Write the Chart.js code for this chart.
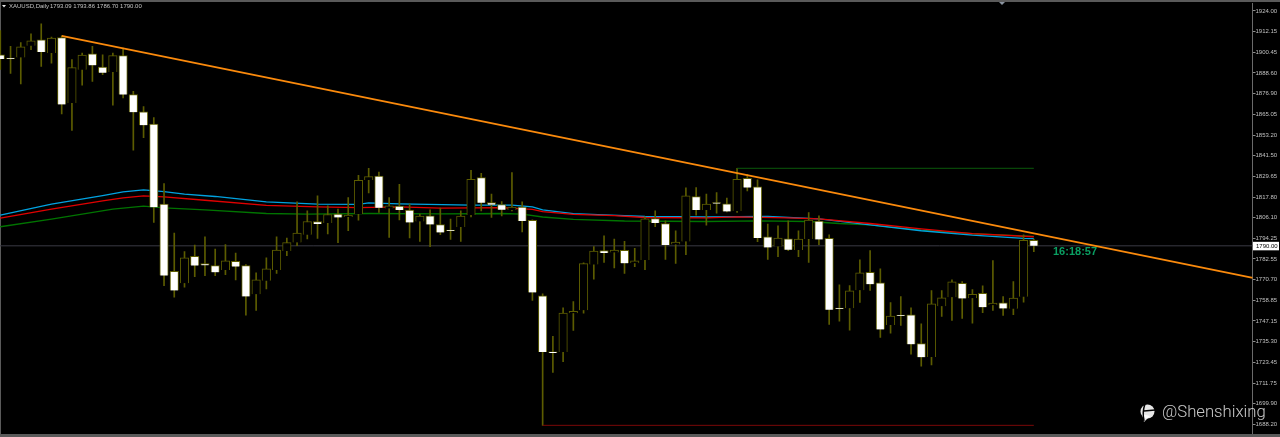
<!DOCTYPE html>
<html>
<head>
<meta charset="utf-8">
<title>XAUUSD,Daily</title>
<style>
html, body { margin: 0; padding: 0; background: #000; overflow: hidden; }
canvas { display: block; }
</style>
<script src="https://cdn.jsdelivr.net/npm/chart.js@4"></script>
</head>
<body>
<canvas id="mainChart" width="1280" height="437"></canvas>
<script>
// candles, oldest first, x is the candle number
const opens = [1898.88,1896.89,1897.46,1904.11,1907.52,1899.9,1908.82,1871.5,1890.47,1899.56,1891.95,1889.11,1898.43,1876.27,1866.38,1859.39,1813.76,1775.47,1768.65,1783.99,1779.84,1778.71,1776.26,1781.15,1778.71,1762.4,1770.01,1776.26,1787.06,1791.95,1796.32,1803.88,1802.97,1808.08,1806.38,1808.08,1827.57,1829.84,1811.26,1812.63,1810.36,1803.88,1807.12,1802.17,1798.99,1800.69,1807.51,1828.88,1814.68,1813.54,1810.36,1812.06,1804.56,1761.49,1729.27,1729.44,1751.6,1753.31,1779.28,1787.23,1786.26,1787.4,1780.01,1781.95,1805.58,1802.74,1790.81,1792.52,1818.08,1810.36,1814.68,1813.93,1809.79,1828.54,1823.59,1795.18,1789.68,1794.05,1787.63,1793.88,1804.11,1794.22,1754.27,1754.45,1764.67,1774.9,1768.88,1744.78,1750.3,1750.69,1734.22,1726.6,1755.58,1760.69,1768.65,1760.13,1762.97,1756.14,1757.51,1754.1,1760.92,1793.09];
const highs = [1912.8,1903.71,1905.98,1910.93,1916.61,1909,1909.79,1896.15,1899.9,1903.71,1898.99,1899.9,1902.75,1878.14,1869.45,1863.2,1825.47,1797.29,1786.66,1790.47,1795.18,1788.2,1790.64,1785.92,1779.28,1774.56,1783.08,1795.18,1794.45,1815.07,1809.96,1818.48,1812.8,1810.92,1817.51,1830.24,1834.22,1832.12,1817.51,1825.13,1813.76,1808.08,1810.53,1811.49,1805.24,1809.96,1833.08,1831.38,1819.45,1815.24,1831.72,1815.07,1804.84,1762.62,1738.4,1754.67,1758.25,1780.24,1789.5,1795.75,1793.88,1792.52,1788.54,1806.55,1809.96,1804.28,1798.59,1823.03,1823.2,1819.45,1820.36,1817.17,1834.22,1830.81,1827.57,1802.4,1801.44,1804.28,1798.59,1809,1807.12,1796.32,1767.74,1767.34,1781.95,1787.23,1776.83,1757.68,1761.09,1754.67,1745.58,1764.5,1764.5,1770.58,1769.62,1765.07,1767.17,1781.55,1761.09,1769.62,1796.32,1793.86];
const lows = [1890.64,1888.37,1882.29,1901.84,1892.35,1894.22,1865.24,1855.81,1881.55,1883.82,1887.63,1870.19,1874.33,1844.62,1851.61,1803.31,1767.34,1760.69,1766.38,1772.46,1773.03,1773.03,1773.59,1770.58,1750.47,1753.14,1765.47,1774.33,1784.39,1790.07,1793.88,1794.22,1796.72,1791.78,1798.59,1804.67,1820.19,1808.99,1794.79,1804.84,1794.45,1792.52,1789.5,1796.32,1793.65,1792.52,1806.5,1809.96,1806.15,1807.12,1809.96,1797.86,1758.82,1687.62,1717.74,1723.99,1741.77,1751.6,1770.92,1780.58,1777.4,1774.33,1778.14,1776.43,1800.87,1782.29,1780.01,1784.96,1807.51,1801.83,1808.65,1809.39,1808.99,1821.32,1792.35,1782.29,1783.82,1787.23,1783.82,1780.58,1790.64,1745.18,1747.06,1741.94,1757.68,1764.5,1737.8,1740.24,1744.6,1728.14,1721.32,1722.06,1749.73,1747.46,1748.59,1745.92,1751.83,1753.14,1750.3,1750.69,1757.86,1786.7];
const closes = [1896.61,1896.55,1903.54,1906.95,1900.47,1908.43,1870.6,1891.61,1898.77,1892.92,1888.77,1898.43,1876.27,1866.21,1858.82,1812.06,1773.02,1764.5,1783.08,1778.71,1778.88,1774.9,1781.38,1778.14,1761.09,1770.58,1776.83,1787.63,1791.78,1797.29,1803.88,1802.4,1807.86,1806.15,1807.51,1827.4,1829.45,1811.66,1812.8,1810.36,1803.31,1806.94,1802.17,1797.63,1798.42,1806.94,1827.97,1814.5,1813.54,1810.53,1812.06,1804.11,1763.37,1729.44,1728.93,1751.6,1752.57,1779.84,1787.06,1785.92,1787.63,1780.01,1781.38,1805.41,1802.97,1790.47,1792.17,1818.48,1810.36,1813.76,1814.1,1809.56,1827.97,1823.2,1794.44,1789.1,1794.44,1787.8,1793.88,1804.67,1793.65,1753.54,1753.93,1764.33,1774.56,1768.08,1742.34,1749.9,1749.96,1733.82,1726.43,1756.94,1760.35,1769.44,1759.96,1762.4,1755.01,1757.28,1754.27,1760.13,1793.08,1790];

// moving averages, read at a handful of candles each
const blueX = [0,5,10,12,14,16,18,21,26,31,35,36,39,46,50,52,53,56,59,63,69,75,80,85,90,95,100,101];
const blueMa = [1807.51,1813.82,1818.6,1820.75,1821.89,1820.92,1819.45,1818.14,1815.07,1813.82,1813.65,1814.5,1813.94,1813.2,1813.2,1812.23,1810.53,1808.37,1807.69,1806.72,1806.44,1806.72,1805.41,1802,1798.59,1796.09,1794.27,1794.05];
const redX = [0,5,10,12,14,16,20,26,31,35,39,43,49,52,53,56,60,63,69,72,77,80,85,90,95,101];
const redMa = [1805.81,1810.98,1815.64,1817.4,1818.48,1817.91,1815.98,1813.03,1812.23,1811.83,1812.23,1811.49,1811.83,1810.81,1809.56,1807.97,1807.23,1806.15,1805.98,1806.55,1805.98,1805.41,1802.74,1799.67,1797,1795.18];
const greenX = [0,5,11,14,16,20,26,30,36,43,49,51,53,56,61,69,74,79,82,85,90,95,101];
const greenMa = [1800.87,1805.24,1810.92,1812.63,1811.66,1810.53,1808.42,1808.08,1808.42,1808.25,1808.42,1808.08,1806.44,1805.13,1804.16,1803.88,1804.28,1803.88,1802.74,1802,1798.99,1796.89,1795.36];

// drawn objects on the chart
const trendX = [6,122.4];
const trendY = [1909.79,1771.72];
const rangeX = [72,101];
const rangeHigh = [1834.22,1834.22];
const rangeLowX = [53,101];
const rangeLow = [1687.62,1687.62];
const lastPrice = 1790;

const priceTicks = [1924,1912.15,1900.45,1888.6,1876.9,1865.05,1853.2,1841.5,1829.65,1817.8,1806.1,1794.25,1782.55,1770.7,1758.85,1747.15,1735.3,1723.45,1711.75,1699.9,1688.2];

const olive = '#5c5c00';
const toXY = (xs, ys) => xs.map((x, i) => ({ x: x, y: ys[i] }));

const wicks = highs.map((h, i) => ({ x: i, y: [lows[i], h] }));
const bodies = opens.map((o, i) => ({ x: i, y: [Math.min(o, closes[i]), Math.max(o, closes[i])] }));
const bodyFill = opens.map((o, i) => closes[i] > o ? '#000000' : '#ffffff');

const lineSet = (data, color, width, order) => ({
    type: 'line',
    data: data,
    borderColor: color,
    borderWidth: width,
    pointRadius: 0,
    tension: 0,
    order: order
});

// borders, legend text, countdown and watermark
const overlay = {
    id: 'overlay',
    beforeDatasetsDraw(chart) {
        const ctx = chart.ctx;
        ctx.fillStyle = '#5a5a5a';
        ctx.fillRect(0, 0, 1, 437);
    },
    afterDraw(chart) {
        const ctx = chart.ctx;
        ctx.save();
        ctx.fillStyle = '#5a5a5a';
        ctx.fillRect(0, 0, 1280, 2);
        ctx.fillRect(0, 434, 1280, 3);

        ctx.fillStyle = '#e8e8e8';
        ctx.beginPath();
        ctx.moveTo(2, 5);
        ctx.lineTo(6, 5);
        ctx.lineTo(4, 7.5);
        ctx.fill();
        ctx.fillStyle = '#8a93a0';
        ctx.beginPath();
        ctx.moveTo(999, 2);
        ctx.lineTo(1005, 2);
        ctx.lineTo(1002, 5);
        ctx.fill();

        ctx.textBaseline = 'middle';
        ctx.fillStyle = '#c4c4c4';
        ctx.font = '6px "Liberation Sans"';
        ctx.fillText('XAUUSD,Daily', 9, 6);
        ctx.fillText('1793.09 1793.86 1786.70 1790.00', 50, 6);

        const py = chart.scales.y.getPixelForValue(lastPrice);
        ctx.fillStyle = '#ffffff';
        ctx.fillRect(1253, py - 4, 26, 8.5);
        ctx.fillStyle = '#000000';
        ctx.fillText(lastPrice.toFixed(2), 1256, py + 0.5);

        ctx.fillStyle = '#0a9f62';
        ctx.font = 'bold 11px "Liberation Sans"';
        ctx.fillText('16:18:57', 1053, 251.5);

        ctx.fillStyle = 'rgba(255,255,255,0.78)';
        ctx.font = '300 16.7px Roboto';
        ctx.fillText('@Shenshixing', 1162, 412.5);

        // logo: disc with a pointed tail and a dark slash
        ctx.fillStyle = 'rgba(255,255,255,0.9)';
        ctx.beginPath();
        ctx.arc(1147.5, 411.5, 7, 0, Math.PI * 2);
        ctx.fill();
        ctx.beginPath();
        ctx.moveTo(1142, 414);
        ctx.lineTo(1144, 422);
        ctx.lineTo(1150, 416);
        ctx.fill();
        ctx.strokeStyle = '#000000';
        ctx.lineWidth = 1.5;
        ctx.beginPath();
        ctx.moveTo(1145, 404);
        ctx.quadraticCurveTo(1142, 412, 1144, 421);
        ctx.moveTo(1144, 411);
        ctx.lineTo(1155, 410);
        ctx.stroke();
        ctx.restore();
    }
};

new Chart(document.getElementById('mainChart'), {
    type: 'bar',
    data: {
        datasets: [
            lineSet(toXY(trendX, trendY), '#fb8a0c', 1.8, 0),
            lineSet(toXY(rangeX, rangeHigh), '#0b5a0b', 1, 1),
            lineSet(toXY(rangeLowX, rangeLow), '#7a0808', 1, 1),
            {
                data: bodies,
                backgroundColor: bodyFill,
                borderColor: olive,
                borderWidth: 1,
                barThickness: 8.5,
                minBarLength: 1,
                grouped: false,
                order: 2
            },
            {
                data: wicks,
                backgroundColor: olive,
                borderWidth: 0,
                barThickness: 1,
                grouped: false,
                order: 3
            },
            lineSet(toXY(redX, redMa), '#e00000', 1.3, 4),
            lineSet(toXY(blueX, blueMa), '#00a2e0', 1.3, 5),
            lineSet(toXY(greenX, greenMa), '#007400', 1.3, 6),
            lineSet(toXY([-0.03, 122.37], [lastPrice, lastPrice]), '#3a3a44', 1, 7)
        ]
    },
    options: {
        responsive: false,
        animation: false,
        events: [],
        layout: { padding: { top: 2, bottom: 4 } },
        plugins: {
            legend: { display: false },
            title: { display: false },
            tooltip: { enabled: false }
        },
        scales: {
            x: {
                type: 'linear',
                min: -0.03,
                max: 122.37,
                offset: false,
                display: false
            },
            y: {
                position: 'right',
                min: 1683.25,
                max: 1928.14,
                afterBuildTicks(scale) {
                    scale.ticks = priceTicks.map(v => ({ value: v }));
                },
                afterFit(scale) {
                    scale.width = 27.5;
                },
                border: { color: '#6a6a6a', width: 1 },
                grid: { drawOnChartArea: false, tickLength: 3, color: '#8a8a8a' },
                ticks: {
                    autoSkip: false,
                    color: '#c0c0c0',
                    padding: 0,
                    font: { family: '"Liberation Sans"', size: 6 },
                    callback: v => v.toFixed(2)
                }
            }
        }
    },
    plugins: [overlay]
});
</script>
</body>
</html>
